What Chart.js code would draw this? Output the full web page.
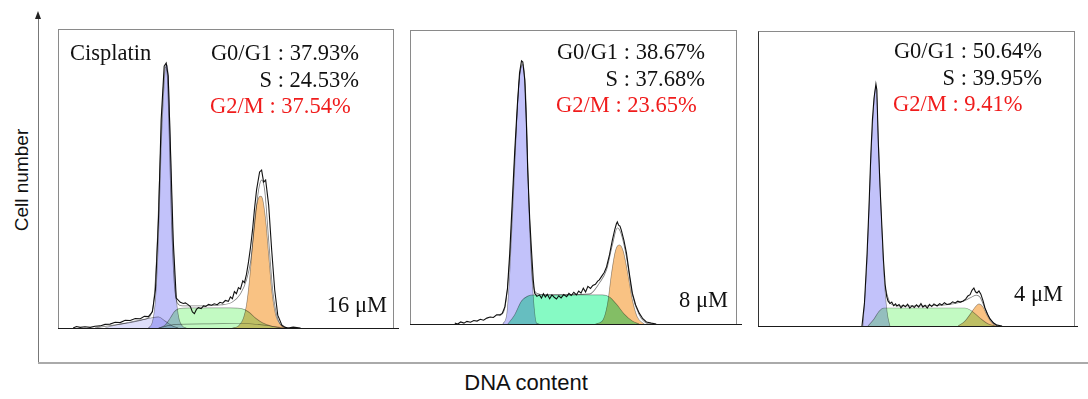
<!DOCTYPE html>
<html lang="en">
  <head>
    <meta charset="UTF-8" />
    <title>Cisplatin - cell cycle distribution</title>
    <script src="https://cdn.jsdelivr.net/npm/chart.js@4"></script>
    <style>
      body {
        margin: 0;
        width: 1088px;
        height: 399px;
        position: relative;
        overflow: hidden;
        background: #fff;
        font-family: "Liberation Serif", "Times New Roman", serif;
        color: #111;
      }
      .panel { position: absolute; }
      .frame {
        position: absolute;
        box-sizing: border-box;
        border: 1px solid #8a8a8a;
        border-bottom: none;
        pointer-events: none;
      }
      .base { position: absolute; height: 1.5px; background: #1a1a1a; }
      .stats {
        position: absolute;
        width: 152px;
        font-size: 22.5px;
        line-height: 26.5px;
        white-space: nowrap;
        text-align: right;
      }
      .stats .g2 { text-align: left; padding-left: 3px; color: #f01c1c; }
      .note { position: absolute; font-size: 22.5px; line-height: 26.5px; white-space: nowrap; }
      .axis-title {
        position: absolute;
        font-family: "Liberation Sans", Arial, sans-serif;
        font-size: 19px;
        color: #111;
        white-space: nowrap;
        transform: translate(-50%, -50%);
      }
    </style>
  </head>
  <body>
    <!-- outer axes -->
    <div style="position:absolute;left:38px;top:16px;width:1px;height:347px;background:#777"></div>
    <div style="position:absolute;left:35px;top:11px;width:0;height:0;border-left:3.5px solid transparent;border-right:3.5px solid transparent;border-bottom:8px solid #222"></div>
    <div style="position:absolute;left:38px;top:362px;width:1050px;height:1.5px;background:#aaa"></div>
    <div class="axis-title" style="left:22px;top:180px;transform:translate(-50%,-50%) rotate(-90deg)">Cell number</div>
    <div class="axis-title" style="left:526px;top:383px;font-size:22px">DNA content</div>

    <!-- panel 1 : 16 uM -->
    <div class="panel" style="left:58px;top:29px;width:336px;height:299px"><canvas id="p1"></canvas></div>
    <div class="frame" style="left:58px;top:29px;width:336px;height:299px"></div>
    <div class="base" style="left:58px;top:327.5px;width:341px"></div>
    <div class="note" style="left:70px;top:40.2px">Cisplatin</div>
    <div class="stats" style="left:207px;top:40.2px">
      <div>G0/G1 : 37.93%</div><div>S : 24.53%</div><div class="g2">G2/M : 37.54%</div>
    </div>
    <div class="note" style="right:701px;top:292.2px">16 μM</div>

    <!-- panel 2 : 8 uM -->
    <div class="panel" style="left:410px;top:30px;width:327px;height:294px"><canvas id="p2"></canvas></div>
    <div class="frame" style="left:410px;top:30px;width:327px;height:294px"></div>
    <div class="base" style="left:410px;top:323.5px;width:332px"></div>
    <div class="stats" style="left:553px;top:39.2px">
      <div>G0/G1 : 38.67%</div><div>S : 37.68%</div><div class="g2">G2/M : 23.65%</div>
    </div>
    <div class="note" style="right:360px;top:287.2px">8 μM</div>

    <!-- panel 3 : 4 uM -->
    <div class="panel" style="left:758px;top:31px;width:317px;height:295px"><canvas id="p3"></canvas></div>
    <div class="frame" style="left:758px;top:31px;width:317px;height:295px;border-left-color:#333"></div>
    <div class="base" style="left:758px;top:325.5px;width:320px"></div>
    <div class="stats" style="left:890px;top:38.2px">
      <div>G0/G1 : 50.64%</div><div>S : 39.95%</div><div class="g2">G2/M : 9.41%</div>
    </div>
    <div class="note" style="right:25px;top:281.2px">4 μM</div>

    <script>
      // x = DNA content (% of panel width), y = cell count (% of panel height)

      // 16 uM
      const p1Raw = [[4.5,0],[5.5,0.5],[6.6,0.2],[8,0.4],[9.6,0.2],[11,0.6],[12.5,0.7],[14,1.2],[15.5,1.3],[17,1.9],
        [18.5,1.8],[20,2.6],[21.5,2.5],[23,3.2],[24.5,3.1],[25.7,3.9],[26.9,3.8],[28.1,5.4],[29,12.7],[29.9,36.1],
        [30.7,69.6],[31.6,87.6],[32.2,88.6],[32.8,84.3],[33.4,62.5],[34.3,29.1],[35.2,10],[36.4,8.6],[37.3,8.2],[37.9,8.4],
        [38.6,7.9],[39.4,7.2],[40,5.4],[40.6,4.8],[41.2,6.2],[41.8,6.8],[42.6,6.5],[43.3,7.4],[44,7.2],[44.8,7.9],
        [45.7,7.6],[46.5,8.1],[47.4,7.8],[48.2,8.6],[49,8.3],[49.8,9.2],[50.7,8.9],[51.3,10.4],[51.9,9.8],[52.5,12.2],
        [53.1,11.5],[53.7,13.5],[54.3,13],[55,15.8],[55.5,15.2],[56.1,18],[56.7,22.1],[57.3,27],[57.9,32.8],[58.5,40],
        [59.1,46.2],[60,52.2],[60.6,52.8],[61.2,48.8],[61.8,49.5],[62.7,41.1],[63.6,26],[64.5,12.7],[65.4,4.3],[66.6,1],
        [67.5,0.3],[68.4,0],[70,0.3],[72.2,0]];
      const p1Fit = [[11,0],[18.5,1.3],[26,3],[28.1,6],[29.3,22.7],[30.4,56.2],[31.3,79.6],[31.9,87.3],[32.5,84.6],[33.1,64.2],
        [33.7,38.5],[34.6,15.1],[35.5,8.4],[37,7.4],[42.4,7.4],[48.4,7.7],[51.9,8.7],[54.3,11.4],[56.1,16.1],[57.3,22.1],
        [58.5,34.4],[59.7,46.2],[60.6,49.5],[61.5,46.2],[62.7,29.4],[63.9,12.7],[65.1,4.3],[66.6,0.7],[68.7,0]];
      const p1Debris = [[14,0],[16.1,0.7],[21.5,2],[27.5,3.3],[29.9,3.7],[31.9,2.3],[34,0.7],[35.8,0]];
      const p1G1 = [[26.9,0],[28.1,2],[29,9.4],[29.9,29.4],[30.7,59.5],[31.6,81.3],[32.2,88.3],[32.8,84.6],[33.4,64.5],
        [34,37.8],[34.9,14.4],[35.8,4.3],[37,0.7],[38.2,0]];
      const p1S = [[29.9,0],[31.9,1],[33.4,3.3],[34.6,5.4],[35.8,6.4],[39.4,6.7],[45.4,6.7],[51.3,6.7],[54.9,6.4],
        [56.7,5.4],[58.8,3.3],[60.9,1.7],[63.3,0.7],[66.3,0]];
      const p1G2 = [[51.9,0],[53.7,0.7],[55.2,3.3],[56.1,7.7],[57,16.1],[57.9,27.8],[58.8,38.8],[59.7,43.5],[60.3,44.1],
        [60.9,43.1],[61.8,36.1],[62.7,24.4],[63.6,12.7],[64.8,4.3],[66.3,1],[68.1,0]];
      const p1Agg = [[30,0],[35,1.2],[45,1.4],[55,1.5],[60,1.1],[65,0.4],[68,0]];

      // 8 uM
      const p2Raw = [[13.7,0.3],[14.6,0],[15.5,0.7],[16.5,0.3],[17.4,0.9],[18.5,0.6],[19.5,1.2],[20.5,1],[21.5,1.6],[22.5,1.3],
        [23.5,2],[24.5,2.4],[25.5,2.2],[26.5,3.1],[27.4,3.1],[28.2,3.6],[29,5.8],[29.8,12],[30.5,24.1],[31.2,40],
        [32,58.2],[32.8,74],[33.5,85.4],[34.1,89.5],[34.5,89.1],[35.1,83],[35.6,68],[36,52.4],[36.6,36],[37.2,24.1],
        [37.7,15],[38.1,10.5],[38.8,9.4],[39.6,9.9],[40.2,8.8],[40.8,10.3],[41.4,9.2],[42,10.1],[42.7,8.6],[43.4,9.9],
        [44.1,9.1],[44.8,8.5],[45.5,9.6],[46.2,8.9],[47,10],[47.9,9.3],[48.6,10.4],[49.3,9.7],[50.1,10.8],[50.9,9.9],
        [51.6,11.2],[52.3,10.5],[53,12.2],[53.7,10.9],[54.4,12.8],[55.2,12.1],[55.9,13.1],[56.7,13.5],[57.4,14.6],[57.9,15],
        [58.6,16.2],[59.4,17.5],[60.1,19.4],[61,23.5],[61.9,28.6],[62.6,32],[63.1,34],[63.4,34.7],[63.8,33.6],[64.2,33.3],
        [64.6,32],[65.4,28.5],[66.2,24.1],[67.1,17],[68,10.5],[69,6.5],[70.1,3.7],[71.2,1.8],[72.3,0.7],[73.8,0.3],[75.3,0]];
      const p2Fit = [[27.4,2.7],[29,5.4],[30.5,22],[32,56],[33.5,84],[34.5,88.5],[35.4,78],[36.3,44],[37.5,15],[38.7,10.5],
        [41.2,9.9],[54.9,10.2],[57.9,13.9],[60.1,18.4],[61.9,26.9],[63.4,32.7],[64.6,30.6],[66.2,22.8],[68,9.9],[70.1,3.1],
        [72.3,0.3],[73.8,0]];
      const p2G1 = [[28.4,0],[29.6,3.4],[30.5,17.3],[32,52.4],[33.2,80.6],[34.5,88.1],[35.4,75.2],[36.3,41.2],[37.5,12.6],
        [38.7,0.3],[39.6,0]];
      const p2S = [[29.9,0],[32,3.1],[34.1,7.8],[36,9.5],[38.1,9.9],[45.7,9.9],[54.9,9.9],[58.8,9.9],[61,9.2],[63.1,6.8],
        [65.5,3.4],[68,1],[70.1,0]];
      const p2G2 = [[56.7,0],[58.8,1],[60.4,6.8],[61.6,17],[62.8,24.8],[64,26.9],[65.2,24.8],[66.5,17.7],[68,8.2],
        [69.5,2.4],[71.6,0]];

      // 4 uM
      const p3Raw = [[32.8,0],[33.6,8],[34.4,24.4],[35,40],[35.6,58.3],[36.1,70],[36.6,77.3],[37.2,82],[37.5,80],[37.9,63.7],
        [38.5,47],[39.1,33.2],[39.6,22],[40.1,14.2],[40.6,10],[41,8.5],[41.6,7.6],[42.2,8.1],[42.8,6.9],[43.4,7.5],
        [43.8,6.8],[44.5,7.3],[45.1,6.2],[45.8,7.1],[46.5,6.5],[47.2,7.4],[47.9,6.1],[48.6,6.9],[49.3,6.3],[50,7.2],
        [50.7,6.4],[51.4,7.6],[52,6.4],[52.7,7],[53.4,6.1],[54.1,7.3],[54.8,6.6],[55.5,7.5],[56.5,6.8],[57.3,7.6],
        [58,7.1],[58.8,7.9],[59.6,7.3],[60.6,7.5],[61.4,8.2],[62.2,7.8],[63,8.4],[63.8,8.1],[64.7,8.5],[65.5,9.1],
        [66.2,10.2],[66.9,10.6],[67.5,12.1],[68.1,12.9],[68.6,11.6],[69.1,11.2],[69.7,11.9],[70.3,10.8],[71,8.5],[71.6,6.1],
        [72.4,4],[73.2,2.4],[74.3,1],[75.4,0.3],[77,0]];
      const p3Fit = [[40.1,13],[41.6,8],[43.8,6.8],[55,6.9],[63.7,8],[66.9,9.5],[68.8,10.5],[70,9.8],[71.6,6],[73.2,2.4],
        [75.4,0]];
      const p3G1 = [[33.1,0],[34.4,22],[35.6,56],[36.6,76],[37.2,81.4],[37.9,66],[38.8,40],[39.7,18],[40.7,5],[41.6,0]];
      const p3S = [[34.7,0],[36.6,2.4],[38.2,5],[39.7,6.1],[44.8,6.1],[57.4,6.1],[65.3,6.1],[67.5,5],[70,2.7],[72.6,0.7],
        [74.8,0]];
      const p3G2 = [[63.1,0],[65.3,1.7],[67.2,4.4],[68.5,6.4],[69.7,7.5],[71,6.4],[72.2,3.7],[73.8,1],[75.4,0]];

      const xy = (arr) => arr.map(([x, y]) => ({ x: x, y: y }));

      // overlapping phases darken each other like the ModFit print
      const multiplyFills = {
        id: "multiplyFills",
        beforeDatasetsDraw(chart) {
          chart.ctx.save();
          chart.ctx.globalCompositeOperation = "multiply";
        },
        afterDatasetsDraw(chart) {
          chart.ctx.restore();
        },
      };

      function area(data, color) {
        return {
          data: xy(data),
          fill: "origin",
          backgroundColor: color,
          borderColor: "rgba(80,80,80,0.6)",
          borderWidth: 0.7,
          pointRadius: 0,
          cubicInterpolationMode: "monotone",
        };
      }
      function line(data, color, width, smooth) {
        return {
          data: xy(data),
          fill: false,
          borderColor: color,
          borderWidth: width,
          pointRadius: 0,
          tension: 0,
          cubicInterpolationMode: smooth ? "monotone" : "default",
        };
      }

      function histogram(id, sets) {
        new Chart(document.getElementById(id), {
          type: "line",
          data: { datasets: sets },
          options: {
            responsive: true,
            maintainAspectRatio: false,
            animation: false,
            events: [],
            layout: { padding: 0 },
            plugins: { legend: { display: false }, tooltip: { enabled: false } },
            scales: {
              x: { type: "linear", display: false, min: 0, max: 100 },
              y: { display: false, min: 0, max: 100 },
            },
          },
          plugins: [multiplyFills],
        });
      }

      histogram("p1", [
        line(p1Raw, "#111", 1.1, false),
        line(p1Fit, "rgba(90,90,90,0.8)", 0.8, true),
        line(p1Agg, "rgba(90,90,90,0.7)", 0.7, true),
        area(p1G2, "#f9c283"),
        area(p1S, "#c2fac2"),
        area(p1G1, "#c2c2fa"),
        area(p1Debris, "#dedefa"),
      ]);

      histogram("p2", [
        line(p2Raw, "#111", 1.1, false),
        line(p2Fit, "rgba(90,90,90,0.8)", 0.8, true),
        area(p2G2, "#f9c283"),
        area(p2S, "#86fac4"),
        area(p2G1, "#c2c2fa"),
      ]);

      histogram("p3", [
        line(p3Raw, "#111", 1.1, false),
        line(p3Fit, "rgba(90,90,90,0.8)", 0.8, true),
        area(p3G2, "#f9c283"),
        area(p3S, "#c2fac2"),
        area(p3G1, "#c2c2fa"),
      ]);
    </script>
  </body>
</html>
